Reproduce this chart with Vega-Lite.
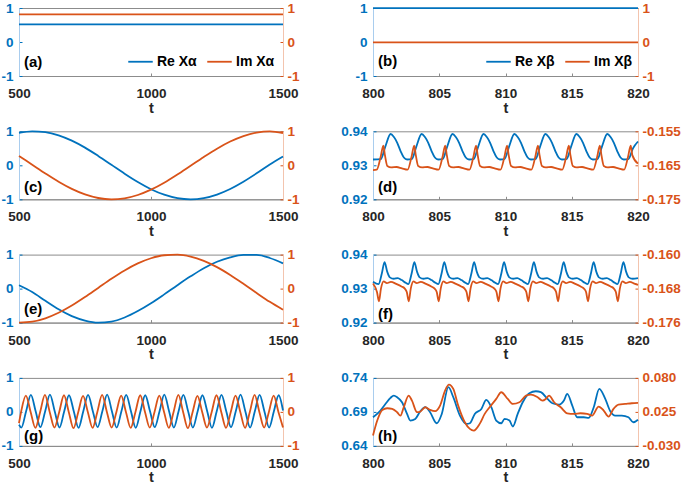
{
  "$schema": "https://vega.github.io/schema/vega-lite/v6.json",
  "background": "white",
  "padding": 0,
  "bounds": "flush",
  "columns": 2,
  "spacing": {"row": 55.3, "column": 90},
  "resolve": {"scale": {"color": "independent"}, "legend": {"color": "independent"}},
  "config": {
    "font": "Liberation Sans",
    "locale": {"number": {"decimal": ".", "thousands": ",", "grouping": [3], "currency": ["$", ""], "minus": "-"}},
    "view": {"stroke": "#8c8c8c", "strokeWidth": 1},
    "line": {"strokeWidth": 1.8},
    "axis": {"labelFont": "Liberation Sans", "labelFontWeight": "bold", "labelFontSize": 13.5, "titleFont": "Liberation Sans", "titleFontWeight": "bold", "titleFontSize": 14.5, "grid": false, "tickSize": -3, "domainWidth": 1, "labelFlush": false, "labelOverlap": false},
    "axisX": {"domainColor": "#8c8c8c", "tickColor": "#8c8c8c", "labelColor": "#262626", "titleColor": "#262626", "labelPadding": 13.5, "titlePadding": 1},
    "axisLeft": {"labelColor": "#0072BD", "domainColor": "#a9cdee", "tickColor": "#0072BD", "labelPadding": 9},
    "axisRight": {"labelColor": "#D95319", "domainColor": "#f3c4ae", "tickColor": "#D95319", "labelPadding": 7},
    "text": {"font": "Liberation Sans", "fontWeight": "bold", "fontSize": 15, "color": "#000000", "align": "left", "baseline": "middle", "dx": 5}
  },
  "datasets": {
    "a_re": [{"t": 500, "v": 0.52}, {"t": 1500, "v": 0.52}],
    "a_im": [{"t": 500, "v": 0.81}, {"t": 1500, "v": 0.81}],
    "b_re": [{"t": 800, "v": 0.995}, {"t": 820, "v": 0.995}],
    "b_im": [{"t": 800, "v": -0.01}, {"t": 820, "v": -0.01}],
    "c_re": [{"t":500,"v":0.955},{"t":550,"v":0.999},{"t":600,"v":0.974},{"t":650,"v":0.881},{"t":700,"v":0.725},{"t":750,"v":0.52},{"t":800,"v":0.277},{"t":850,"v":0.016},{"t":900,"v":-0.247},{"t":950,"v":-0.492},{"t":1000,"v":-0.703},{"t":1050,"v":-0.865},{"t":1100,"v":-0.966},{"t":1150,"v":-1.0},{"t":1200,"v":-0.964},{"t":1250,"v":-0.86},{"t":1300,"v":-0.696},{"t":1350,"v":-0.483},{"t":1400,"v":-0.237},{"t":1450,"v":0.026},{"t":1500,"v":0.26}],
    "c_im": [{"t":500,"v":0.277},{"t":550,"v":0.018},{"t":600,"v":-0.241},{"t":650,"v":-0.485},{"t":700,"v":-0.695},{"t":750,"v":-0.858},{"t":800,"v":-0.962},{"t":850,"v":-1.0},{"t":900,"v":-0.97},{"t":950,"v":-0.873},{"t":1000,"v":-0.717},{"t":1050,"v":-0.512},{"t":1100,"v":-0.272},{"t":1150,"v":-0.013},{"t":1200,"v":0.246},{"t":1250,"v":0.489},{"t":1300,"v":0.699},{"t":1350,"v":0.86},{"t":1400,"v":0.963},{"t":1450,"v":1.0},{"t":1500,"v":0.95}],
    "d_re": [{"t":800.00,"v":0.9317},
      {"t":800.58,"v":0.9318},{"t":800.93,"v":0.9355},{"t":801.33,"v":0.9392},{"t":801.58,"v":0.9383},{"t":801.83,"v":0.9366},{"t":802.08,"v":0.9342},{"t":802.33,"v":0.9323},{"t":802.58,"v":0.9317},
      {"t":802.92,"v":0.9318},{"t":803.27,"v":0.9355},{"t":803.67,"v":0.9392},{"t":803.92,"v":0.9383},{"t":804.17,"v":0.9366},{"t":804.42,"v":0.9342},{"t":804.67,"v":0.9323},{"t":804.92,"v":0.9317},
      {"t":805.25,"v":0.9318},{"t":805.60,"v":0.9355},{"t":806.00,"v":0.9392},{"t":806.25,"v":0.9383},{"t":806.50,"v":0.9366},{"t":806.75,"v":0.9342},{"t":807.00,"v":0.9323},{"t":807.25,"v":0.9317},
      {"t":807.59,"v":0.9318},{"t":807.94,"v":0.9355},{"t":808.34,"v":0.9392},{"t":808.59,"v":0.9383},{"t":808.84,"v":0.9366},{"t":809.09,"v":0.9342},{"t":809.34,"v":0.9323},{"t":809.59,"v":0.9317},
      {"t":809.92,"v":0.9318},{"t":810.27,"v":0.9355},{"t":810.67,"v":0.9392},{"t":810.92,"v":0.9383},{"t":811.17,"v":0.9366},{"t":811.42,"v":0.9342},{"t":811.67,"v":0.9323},{"t":811.92,"v":0.9317},
      {"t":812.26,"v":0.9318},{"t":812.61,"v":0.9355},{"t":813.01,"v":0.9392},{"t":813.26,"v":0.9383},{"t":813.51,"v":0.9366},{"t":813.76,"v":0.9342},{"t":814.01,"v":0.9323},{"t":814.26,"v":0.9317},
      {"t":814.60,"v":0.9318},{"t":814.95,"v":0.9355},{"t":815.35,"v":0.9392},{"t":815.60,"v":0.9383},{"t":815.85,"v":0.9366},{"t":816.10,"v":0.9342},{"t":816.35,"v":0.9323},{"t":816.60,"v":0.9317},
      {"t":816.93,"v":0.9318},{"t":817.28,"v":0.9355},{"t":817.68,"v":0.9392},{"t":817.93,"v":0.9383},{"t":818.18,"v":0.9366},{"t":818.43,"v":0.9342},{"t":818.68,"v":0.9323},{"t":818.93,"v":0.9317},
      {"t":819.27,"v":0.9318},{"t":819.62,"v":0.9350},{"t":820.00,"v":0.9370}],
    "d_im": [{"t":800.00,"v":-0.1664},
      {"t":800.28,"v":-0.1663},{"t":800.58,"v":-0.1625},{"t":800.78,"v":-0.1592},{"t":800.90,"v":-0.1620},{"t":801.08,"v":-0.1652},{"t":801.38,"v":-0.1656},{"t":801.78,"v":-0.1655},{"t":802.18,"v":-0.1659},
      {"t":802.61,"v":-0.1663},{"t":802.91,"v":-0.1625},{"t":803.11,"v":-0.1592},{"t":803.23,"v":-0.1620},{"t":803.41,"v":-0.1652},{"t":803.71,"v":-0.1656},{"t":804.11,"v":-0.1655},{"t":804.51,"v":-0.1659},
      {"t":804.95,"v":-0.1663},{"t":805.25,"v":-0.1625},{"t":805.45,"v":-0.1592},{"t":805.57,"v":-0.1620},{"t":805.75,"v":-0.1652},{"t":806.05,"v":-0.1656},{"t":806.45,"v":-0.1655},{"t":806.85,"v":-0.1659},
      {"t":807.28,"v":-0.1663},{"t":807.58,"v":-0.1625},{"t":807.78,"v":-0.1592},{"t":807.90,"v":-0.1620},{"t":808.08,"v":-0.1652},{"t":808.38,"v":-0.1656},{"t":808.78,"v":-0.1655},{"t":809.18,"v":-0.1659},
      {"t":809.62,"v":-0.1663},{"t":809.92,"v":-0.1625},{"t":810.12,"v":-0.1592},{"t":810.24,"v":-0.1620},{"t":810.42,"v":-0.1652},{"t":810.72,"v":-0.1656},{"t":811.12,"v":-0.1655},{"t":811.52,"v":-0.1659},
      {"t":811.95,"v":-0.1663},{"t":812.25,"v":-0.1625},{"t":812.45,"v":-0.1592},{"t":812.57,"v":-0.1620},{"t":812.75,"v":-0.1652},{"t":813.05,"v":-0.1656},{"t":813.45,"v":-0.1655},{"t":813.85,"v":-0.1659},
      {"t":814.28,"v":-0.1663},{"t":814.58,"v":-0.1625},{"t":814.78,"v":-0.1592},{"t":814.90,"v":-0.1620},{"t":815.08,"v":-0.1652},{"t":815.38,"v":-0.1656},{"t":815.78,"v":-0.1655},{"t":816.18,"v":-0.1659},
      {"t":816.62,"v":-0.1663},{"t":816.92,"v":-0.1625},{"t":817.12,"v":-0.1592},{"t":817.24,"v":-0.1620},{"t":817.42,"v":-0.1652},{"t":817.72,"v":-0.1656},{"t":818.12,"v":-0.1655},{"t":818.52,"v":-0.1659},
      {"t":818.95,"v":-0.1663},{"t":819.25,"v":-0.1625},{"t":819.45,"v":-0.1592},{"t":819.57,"v":-0.1620},{"t":820.00,"v":-0.1645}],
    "e_re": [{"t":500,"v":0.10},{"t":550,"v":-0.10},{"t":600,"v":-0.36},{"t":650,"v":-0.61},{"t":700,"v":-0.81},{"t":750,"v":-0.94},{"t":800,"v":-1.0},{"t":850,"v":-0.97},{"t":900,"v":-0.85},{"t":950,"v":-0.66},{"t":1000,"v":-0.43},{"t":1050,"v":-0.17},{"t":1100,"v":0.10},{"t":1150,"v":0.36},{"t":1200,"v":0.60},{"t":1250,"v":0.79},{"t":1300,"v":0.92},{"t":1350,"v":0.99},{"t":1400,"v":0.99},{"t":1450,"v":0.90},{"t":1500,"v":0.74}],
    "e_im": [{"t":500,"v":-0.999},{"t":550,"v":-0.972},{"t":600,"v":-0.873},{"t":650,"v":-0.711},{"t":700,"v":-0.497},{"t":750,"v":-0.247},{"t":800,"v":0.021},{"t":850,"v":0.289},{"t":900,"v":0.534},{"t":950,"v":0.741},{"t":1000,"v":0.893},{"t":1050,"v":0.981},{"t":1100,"v":0.997},{"t":1150,"v":0.941},{"t":1200,"v":0.815},{"t":1250,"v":0.631},{"t":1300,"v":0.40},{"t":1350,"v":0.141},{"t":1400,"v":-0.129},{"t":1450,"v":-0.39},{"t":1500,"v":-0.622}],
    "f_re": [{"t":800.00,"v":0.9320},
      {"t":800.42,"v":0.9313},{"t":800.67,"v":0.9345},{"t":800.87,"v":0.9378},{"t":801.07,"v":0.9350},{"t":801.27,"v":0.9333},{"t":801.57,"v":0.9329},{"t":801.87,"v":0.9331},{"t":802.17,"v":0.9325},{"t":802.47,"v":0.9317},
      {"t":802.67,"v":0.9313},{"t":802.92,"v":0.9345},{"t":803.12,"v":0.9378},{"t":803.32,"v":0.9350},{"t":803.52,"v":0.9333},{"t":803.82,"v":0.9329},{"t":804.12,"v":0.9331},{"t":804.42,"v":0.9325},{"t":804.72,"v":0.9317},
      {"t":804.93,"v":0.9313},{"t":805.18,"v":0.9345},{"t":805.38,"v":0.9378},{"t":805.58,"v":0.9350},{"t":805.78,"v":0.9333},{"t":806.08,"v":0.9329},{"t":806.38,"v":0.9331},{"t":806.68,"v":0.9325},{"t":806.98,"v":0.9317},
      {"t":807.18,"v":0.9313},{"t":807.43,"v":0.9345},{"t":807.63,"v":0.9378},{"t":807.83,"v":0.9350},{"t":808.03,"v":0.9333},{"t":808.33,"v":0.9329},{"t":808.63,"v":0.9331},{"t":808.93,"v":0.9325},{"t":809.23,"v":0.9317},
      {"t":809.44,"v":0.9313},{"t":809.69,"v":0.9345},{"t":809.89,"v":0.9378},{"t":810.09,"v":0.9350},{"t":810.29,"v":0.9333},{"t":810.59,"v":0.9329},{"t":810.89,"v":0.9331},{"t":811.19,"v":0.9325},{"t":811.49,"v":0.9317},
      {"t":811.69,"v":0.9313},{"t":811.94,"v":0.9345},{"t":812.14,"v":0.9378},{"t":812.34,"v":0.9350},{"t":812.54,"v":0.9333},{"t":812.84,"v":0.9329},{"t":813.14,"v":0.9331},{"t":813.44,"v":0.9325},{"t":813.74,"v":0.9317},
      {"t":813.94,"v":0.9313},{"t":814.19,"v":0.9345},{"t":814.39,"v":0.9378},{"t":814.59,"v":0.9350},{"t":814.79,"v":0.9333},{"t":815.09,"v":0.9329},{"t":815.39,"v":0.9331},{"t":815.69,"v":0.9325},{"t":815.99,"v":0.9317},
      {"t":816.20,"v":0.9313},{"t":816.45,"v":0.9345},{"t":816.65,"v":0.9378},{"t":816.85,"v":0.9350},{"t":817.05,"v":0.9333},{"t":817.35,"v":0.9329},{"t":817.65,"v":0.9331},{"t":817.95,"v":0.9325},{"t":818.25,"v":0.9317},
      {"t":818.45,"v":0.9313},{"t":818.70,"v":0.9345},{"t":818.90,"v":0.9378},{"t":819.10,"v":0.9350},{"t":819.30,"v":0.9333},{"t":819.60,"v":0.9329},{"t":820.00,"v":0.9331}],
    "f_im": [{"t":800.00,"v":-0.1668},
      {"t":800.30,"v":-0.1688},{"t":800.45,"v":-0.1710},{"t":800.60,"v":-0.1680},{"t":800.80,"v":-0.1663},{"t":801.05,"v":-0.1667},{"t":801.35,"v":-0.1664},{"t":801.75,"v":-0.1669},{"t":802.15,"v":-0.1675},{"t":802.40,"v":-0.1680},
      {"t":802.55,"v":-0.1688},{"t":802.70,"v":-0.1710},{"t":802.85,"v":-0.1680},{"t":803.05,"v":-0.1663},{"t":803.30,"v":-0.1667},{"t":803.60,"v":-0.1664},{"t":804.00,"v":-0.1669},{"t":804.40,"v":-0.1675},{"t":804.65,"v":-0.1680},
      {"t":804.81,"v":-0.1688},{"t":804.96,"v":-0.1710},{"t":805.11,"v":-0.1680},{"t":805.31,"v":-0.1663},{"t":805.56,"v":-0.1667},{"t":805.86,"v":-0.1664},{"t":806.26,"v":-0.1669},{"t":806.66,"v":-0.1675},{"t":806.91,"v":-0.1680},
      {"t":807.06,"v":-0.1688},{"t":807.21,"v":-0.1710},{"t":807.36,"v":-0.1680},{"t":807.56,"v":-0.1663},{"t":807.81,"v":-0.1667},{"t":808.11,"v":-0.1664},{"t":808.51,"v":-0.1669},{"t":808.91,"v":-0.1675},{"t":809.16,"v":-0.1680},
      {"t":809.32,"v":-0.1688},{"t":809.47,"v":-0.1710},{"t":809.62,"v":-0.1680},{"t":809.82,"v":-0.1663},{"t":810.07,"v":-0.1667},{"t":810.37,"v":-0.1664},{"t":810.77,"v":-0.1669},{"t":811.17,"v":-0.1675},{"t":811.42,"v":-0.1680},
      {"t":811.57,"v":-0.1688},{"t":811.72,"v":-0.1710},{"t":811.87,"v":-0.1680},{"t":812.07,"v":-0.1663},{"t":812.32,"v":-0.1667},{"t":812.62,"v":-0.1664},{"t":813.02,"v":-0.1669},{"t":813.42,"v":-0.1675},{"t":813.67,"v":-0.1680},
      {"t":813.82,"v":-0.1688},{"t":813.97,"v":-0.1710},{"t":814.12,"v":-0.1680},{"t":814.32,"v":-0.1663},{"t":814.57,"v":-0.1667},{"t":814.87,"v":-0.1664},{"t":815.27,"v":-0.1669},{"t":815.67,"v":-0.1675},{"t":815.92,"v":-0.1680},
      {"t":816.08,"v":-0.1688},{"t":816.23,"v":-0.1710},{"t":816.38,"v":-0.1680},{"t":816.58,"v":-0.1663},{"t":816.83,"v":-0.1667},{"t":817.13,"v":-0.1664},{"t":817.53,"v":-0.1669},{"t":817.93,"v":-0.1675},{"t":818.18,"v":-0.1680},
      {"t":818.33,"v":-0.1688},{"t":818.48,"v":-0.1710},{"t":818.63,"v":-0.1680},{"t":818.83,"v":-0.1663},{"t":819.08,"v":-0.1667},{"t":819.38,"v":-0.1664},{"t":819.78,"v":-0.1669},{"t":820.00,"v":-0.1671}],
    "g_re": [{"t":500,"v":-0.38},{"t":508.9,"v":-0.46},{"t":526.95,"v":0.02},{"t":545.0,"v":0.50},{"t":563.05,"v":0.02},{"t":581.1,"v":-0.45},{"t":599.15,"v":0.02},{"t":617.2,"v":0.51},{"t":635.25,"v":0.02},{"t":653.3,"v":-0.46},{"t":671.35,"v":0.02},{"t":689.4,"v":0.49},{"t":707.45,"v":0.02},{"t":725.5,"v":-0.47},{"t":743.55,"v":0.02},{"t":761.6,"v":0.50},{"t":779.65,"v":0.02},{"t":797.7,"v":-0.45},{"t":815.75,"v":0.02},{"t":833.8,"v":0.51},{"t":851.85,"v":0.02},{"t":869.9,"v":-0.46},{"t":887.95,"v":0.02},{"t":906.0,"v":0.50},{"t":924.05,"v":0.02},{"t":942.1,"v":-0.47},{"t":960.15,"v":0.02},{"t":978.2,"v":0.49},{"t":996.25,"v":0.02},{"t":1014.3,"v":-0.45},{"t":1032.35,"v":0.02},{"t":1050.4,"v":0.51},{"t":1068.45,"v":0.02},{"t":1086.5,"v":-0.46},{"t":1104.55,"v":0.02},{"t":1122.6,"v":0.50},{"t":1140.65,"v":0.02},{"t":1158.7,"v":-0.46},{"t":1176.75,"v":0.02},{"t":1194.8,"v":0.49},{"t":1212.85,"v":0.02},{"t":1230.9,"v":-0.47},{"t":1248.95,"v":0.02},{"t":1267.0,"v":0.50},{"t":1285.05,"v":0.02},{"t":1303.1,"v":-0.45},{"t":1321.15,"v":0.02},{"t":1339.2,"v":0.51},{"t":1357.25,"v":0.02},{"t":1375.3,"v":-0.46},{"t":1393.35,"v":0.02},{"t":1411.4,"v":0.50},{"t":1429.45,"v":0.02},{"t":1447.5,"v":-0.46},{"t":1465.55,"v":0.02},{"t":1483.6,"v":0.49},{"t":1500,"v":0.04}],
    "g_im": [{"t":500,"v":-0.33},{"t":507.95,"v":0.0},{"t":526.0,"v":0.48},{"t":544.05,"v":0.0},{"t":562.1,"v":-0.47},{"t":580.15,"v":0.0},{"t":598.2,"v":0.50},{"t":616.25,"v":0.0},{"t":634.3,"v":-0.46},{"t":652.35,"v":0.0},{"t":670.4,"v":0.49},{"t":688.45,"v":0.0},{"t":706.5,"v":-0.48},{"t":724.55,"v":0.0},{"t":742.6,"v":0.47},{"t":760.65,"v":0.0},{"t":778.7,"v":-0.47},{"t":796.75,"v":0.0},{"t":814.8,"v":0.50},{"t":832.85,"v":0.0},{"t":850.9,"v":-0.46},{"t":868.95,"v":0.0},{"t":887.0,"v":0.48},{"t":905.05,"v":0.0},{"t":923.1,"v":-0.47},{"t":941.15,"v":0.0},{"t":959.2,"v":0.49},{"t":977.25,"v":0.0},{"t":995.3,"v":-0.46},{"t":1013.35,"v":0.0},{"t":1031.4,"v":0.48},{"t":1049.45,"v":0.0},{"t":1067.5,"v":-0.47},{"t":1085.55,"v":0.0},{"t":1103.6,"v":0.50},{"t":1121.65,"v":0.0},{"t":1139.7,"v":-0.48},{"t":1157.75,"v":0.0},{"t":1175.8,"v":0.47},{"t":1193.85,"v":0.0},{"t":1211.9,"v":-0.46},{"t":1229.95,"v":0.0},{"t":1248.0,"v":0.49},{"t":1266.05,"v":0.0},{"t":1284.1,"v":-0.47},{"t":1302.15,"v":0.0},{"t":1320.2,"v":0.48},{"t":1338.25,"v":0.0},{"t":1356.3,"v":-0.47},{"t":1374.35,"v":0.0},{"t":1392.4,"v":0.50},{"t":1410.45,"v":0.0},{"t":1428.5,"v":-0.46},{"t":1446.55,"v":0.0},{"t":1464.6,"v":0.48},{"t":1482.65,"v":0.0},{"t":1500,"v":-0.46}],
    "h_re": [{"t":800.00,"v":0.682},{"t":800.45,"v":0.6895},{"t":800.95,"v":0.702},{"t":801.32,"v":0.7106},{"t":801.57,"v":0.714},{"t":801.82,"v":0.7116},{"t":802.19,"v":0.7042},{"t":802.57,"v":0.687},{"t":802.82,"v":0.6773},{"t":803.19,"v":0.6797},{"t":803.57,"v":0.691},{"t":803.94,"v":0.6969},{"t":804.31,"v":0.6895},{"t":804.81,"v":0.6733},{"t":805.19,"v":0.687},{"t":805.69,"v":0.7263},{"t":806.06,"v":0.7116},{"t":806.56,"v":0.6846},{"t":807.06,"v":0.6724},{"t":807.31,"v":0.6733},{"t":807.68,"v":0.687},{"t":808.18,"v":0.6944},{"t":808.55,"v":0.7076},{"t":808.93,"v":0.6969},{"t":809.30,"v":0.6773},{"t":809.68,"v":0.6733},{"t":809.93,"v":0.6797},{"t":810.30,"v":0.6773},{"t":810.55,"v":0.6684},{"t":810.92,"v":0.687},{"t":811.30,"v":0.7042},{"t":811.80,"v":0.7175},{"t":812.29,"v":0.7204},{"t":812.67,"v":0.719},{"t":813.17,"v":0.7091},{"t":813.54,"v":0.7027},{"t":814.04,"v":0.7008},{"t":814.41,"v":0.7067},{"t":814.66,"v":0.7165},{"t":815.04,"v":0.6993},{"t":815.41,"v":0.6821},{"t":815.91,"v":0.6821},{"t":816.28,"v":0.6812},{"t":816.66,"v":0.6969},{"t":817.08,"v":0.7238},{"t":817.53,"v":0.7091},{"t":817.91,"v":0.691},{"t":818.28,"v":0.6846},{"t":818.78,"v":0.6846},{"t":819.28,"v":0.6822},{"t":819.65,"v":0.6748},{"t":820.00,"v":0.6785}],
    "h_im": [{"t":800.00,"v":-0.0133},{"t":800.32,"v":0.011},{"t":800.70,"v":0.0282},{"t":801.07,"v":0.0309},{"t":801.45,"v":0.0299},{"t":801.82,"v":0.0245},{"t":802.07,"v":0.0191},{"t":802.32,"v":0.0325},{"t":802.69,"v":0.0514},{"t":802.94,"v":0.0433},{"t":803.32,"v":0.0245},{"t":803.57,"v":0.0255},{"t":803.94,"v":0.0325},{"t":804.31,"v":0.0282},{"t":804.69,"v":0.0261},{"t":805.06,"v":0.0352},{"t":805.44,"v":0.0595},{"t":805.73,"v":0.0692},{"t":806.06,"v":0.0622},{"t":806.43,"v":0.0352},{"t":806.93,"v":0.0083},{"t":807.31,"v":-0.0025},{"t":807.61,"v":-0.0052},{"t":808.05,"v":0.0056},{"t":808.43,"v":0.0218},{"t":808.80,"v":0.0325},{"t":809.30,"v":0.046},{"t":809.68,"v":0.0568},{"t":810.17,"v":0.046},{"t":810.55,"v":0.0379},{"t":811.05,"v":0.0406},{"t":811.55,"v":0.0514},{"t":811.92,"v":0.053},{"t":812.42,"v":0.0487},{"t":812.79,"v":0.0433},{"t":813.04,"v":0.046},{"t":813.29,"v":0.0514},{"t":813.67,"v":0.0406},{"t":814.17,"v":0.0325},{"t":814.66,"v":0.0228},{"t":815.16,"v":0.0218},{"t":815.66,"v":0.0228},{"t":816.16,"v":0.0218},{"t":816.53,"v":0.0191},{"t":817.03,"v":0.0336},{"t":817.41,"v":0.0272},{"t":817.78,"v":0.0175},{"t":818.15,"v":0.0299},{"t":818.53,"v":0.0369},{"t":819.03,"v":0.0379},{"t":819.53,"v":0.039},{"t":820.00,"v":0.0395}]
  },
  "concat": [
    {
      "width": 264, "height": 68,
      "layer": [
        {"data": {"name": "a_re"}, "mark": {"type": "line"},
         "encoding": {
           "x": {"field": "t", "type": "quantitative", "scale": {"domain": [500, 1500], "nice": false, "zero": false}, "axis": {"values": [500, 1000, 1500], "format": "d", "title": "t"}},
           "y": {"field": "v", "type": "quantitative", "scale": {"domain": [-1, 1], "nice": false, "zero": false}, "axis": {"orient": "left", "tickCount": 3, "format": "d", "title": null}},
           "color": {"datum": "Re Xα", "type": "nominal", "scale": {"domain": ["Re Xα", "Im Xα"], "range": ["#0072BD", "#D95319"]},
             "legend": {"orient": "none", "legendX": 108, "legendY": 40, "direction": "horizontal", "title": null, "symbolType": "stroke", "symbolSize": 600, "symbolStrokeWidth": 2, "labelFont": "Liberation Sans", "labelFontSize": 14, "labelFontWeight": "bold", "labelColor": "#000000", "labelOffset": 3, "columnPadding": 6, "padding": 0}}}},
        {"data": {"name": "a_im"}, "mark": {"type": "line"},
         "encoding": {
           "x": {"field": "t", "type": "quantitative"},
           "y": {"field": "v", "type": "quantitative", "scale": {"domain": [-1, 1], "nice": false, "zero": false}, "axis": {"orient": "right", "tickCount": 3, "format": "d", "title": null}},
           "color": {"datum": "Im Xα", "type": "nominal"}}},
        {"data": {"values": [{"label": "(a)"}]}, "mark": {"type": "text"},
         "encoding": {"text": {"field": "label"}, "x": {"datum": 500, "type": "quantitative"}, "y": {"datum": 0.21, "type": "quantitative", "scale": {"domain": [0, 1]}, "axis": null}}}
      ],
      "resolve": {"scale": {"y": "independent"}}
    },
    {
      "width": 265, "height": 68,
      "layer": [
        {"data": {"name": "b_re"}, "mark": {"type": "line"},
         "encoding": {
           "x": {"field": "t", "type": "quantitative", "scale": {"domain": [800, 820], "nice": false, "zero": false}, "axis": {"values": [800, 805, 810, 815, 820], "format": "d", "title": "t"}},
           "y": {"field": "v", "type": "quantitative", "scale": {"domain": [-1, 1], "nice": false, "zero": false}, "axis": {"orient": "left", "tickCount": 3, "format": "d", "title": null}},
           "color": {"datum": "Re Xβ", "type": "nominal", "scale": {"domain": ["Re Xβ", "Im Xβ"], "range": ["#0072BD", "#D95319"]},
             "legend": {"orient": "none", "legendX": 112, "legendY": 40, "direction": "horizontal", "title": null, "symbolType": "stroke", "symbolSize": 600, "symbolStrokeWidth": 2, "labelFont": "Liberation Sans", "labelFontSize": 14, "labelFontWeight": "bold", "labelColor": "#000000", "labelOffset": 3, "columnPadding": 6, "padding": 0}}}},
        {"data": {"name": "b_im"}, "mark": {"type": "line"},
         "encoding": {
           "x": {"field": "t", "type": "quantitative"},
           "y": {"field": "v", "type": "quantitative", "scale": {"domain": [-1, 1], "nice": false, "zero": false}, "axis": {"orient": "right", "tickCount": 3, "format": "d", "title": null}},
           "color": {"datum": "Im Xβ", "type": "nominal"}}},
        {"data": {"values": [{"label": "(b)"}]}, "mark": {"type": "text"},
         "encoding": {"text": {"field": "label"}, "x": {"datum": 800, "type": "quantitative"}, "y": {"datum": 0.22, "type": "quantitative", "scale": {"domain": [0, 1]}, "axis": null}}}
      ],
      "resolve": {"scale": {"y": "independent"}}
    },
    {
      "width": 264, "height": 68,
      "layer": [
        {"data": {"name": "c_re"}, "mark": {"type": "line", "color": "#0072BD", "interpolate": "monotone"},
         "encoding": {
           "x": {"field": "t", "type": "quantitative", "scale": {"domain": [500, 1500], "nice": false, "zero": false}, "axis": {"values": [500, 1000, 1500], "format": "d", "title": "t"}},
           "y": {"field": "v", "type": "quantitative", "scale": {"domain": [-1, 1], "nice": false, "zero": false}, "axis": {"orient": "left", "tickCount": 3, "format": "d", "title": null}}}},
        {"data": {"name": "c_im"}, "mark": {"type": "line", "color": "#D95319", "interpolate": "monotone"},
         "encoding": {
           "x": {"field": "t", "type": "quantitative"},
           "y": {"field": "v", "type": "quantitative", "scale": {"domain": [-1, 1], "nice": false, "zero": false}, "axis": {"orient": "right", "tickCount": 3, "format": "d", "title": null}}}},
        {"data": {"values": [{"label": "(c)"}]}, "mark": {"type": "text"},
         "encoding": {"text": {"field": "label"}, "x": {"datum": 500, "type": "quantitative"}, "y": {"datum": 0.18, "type": "quantitative", "scale": {"domain": [0, 1]}, "axis": null}}}
      ],
      "resolve": {"scale": {"y": "independent"}}
    },
    {
      "width": 265, "height": 68,
      "layer": [
        {"data": {"name": "d_re"}, "mark": {"type": "line", "color": "#0072BD", "interpolate": "monotone"},
         "encoding": {
           "x": {"field": "t", "type": "quantitative", "scale": {"domain": [800, 820], "nice": false, "zero": false}, "axis": {"values": [800, 805, 810, 815, 820], "format": "d", "title": "t"}},
           "y": {"field": "v", "type": "quantitative", "scale": {"domain": [0.92, 0.94], "nice": false, "zero": false}, "axis": {"orient": "left", "values": [0.92, 0.93, 0.94], "format": ".2f", "title": null}}}},
        {"data": {"name": "d_im"}, "mark": {"type": "line", "color": "#D95319", "interpolate": "monotone"},
         "encoding": {
           "x": {"field": "t", "type": "quantitative"},
           "y": {"field": "v", "type": "quantitative", "scale": {"domain": [-0.175, -0.155], "nice": false, "zero": false}, "axis": {"orient": "right", "values": [-0.175, -0.165, -0.155], "format": ".3f", "title": null}}}},
        {"data": {"values": [{"label": "(d)"}]}, "mark": {"type": "text"},
         "encoding": {"text": {"field": "label"}, "x": {"datum": 800, "type": "quantitative"}, "y": {"datum": 0.18, "type": "quantitative", "scale": {"domain": [0, 1]}, "axis": null}}}
      ],
      "resolve": {"scale": {"y": "independent"}}
    },
    {
      "width": 264, "height": 68,
      "layer": [
        {"data": {"name": "e_re"}, "mark": {"type": "line", "color": "#0072BD", "interpolate": "monotone"},
         "encoding": {
           "x": {"field": "t", "type": "quantitative", "scale": {"domain": [500, 1500], "nice": false, "zero": false}, "axis": {"values": [500, 1000, 1500], "format": "d", "title": "t"}},
           "y": {"field": "v", "type": "quantitative", "scale": {"domain": [-1, 1], "nice": false, "zero": false}, "axis": {"orient": "left", "tickCount": 3, "format": "d", "title": null}}}},
        {"data": {"name": "e_im"}, "mark": {"type": "line", "color": "#D95319", "interpolate": "monotone"},
         "encoding": {
           "x": {"field": "t", "type": "quantitative"},
           "y": {"field": "v", "type": "quantitative", "scale": {"domain": [-1, 1], "nice": false, "zero": false}, "axis": {"orient": "right", "tickCount": 3, "format": "d", "title": null}}}},
        {"data": {"values": [{"label": "(e)"}]}, "mark": {"type": "text"},
         "encoding": {"text": {"field": "label"}, "x": {"datum": 500, "type": "quantitative"}, "y": {"datum": 0.2, "type": "quantitative", "scale": {"domain": [0, 1]}, "axis": null}}}
      ],
      "resolve": {"scale": {"y": "independent"}}
    },
    {
      "width": 265, "height": 68,
      "layer": [
        {"data": {"name": "f_re"}, "mark": {"type": "line", "color": "#0072BD", "interpolate": "monotone"},
         "encoding": {
           "x": {"field": "t", "type": "quantitative", "scale": {"domain": [800, 820], "nice": false, "zero": false}, "axis": {"values": [800, 805, 810, 815, 820], "format": "d", "title": "t"}},
           "y": {"field": "v", "type": "quantitative", "scale": {"domain": [0.92, 0.94], "nice": false, "zero": false}, "axis": {"orient": "left", "values": [0.92, 0.93, 0.94], "format": ".2f", "title": null}}}},
        {"data": {"name": "f_im"}, "mark": {"type": "line", "color": "#D95319", "interpolate": "monotone"},
         "encoding": {
           "x": {"field": "t", "type": "quantitative"},
           "y": {"field": "v", "type": "quantitative", "scale": {"domain": [-0.176, -0.16], "nice": false, "zero": false}, "axis": {"orient": "right", "values": [-0.176, -0.168, -0.16], "format": ".3f", "title": null}}}},
        {"data": {"values": [{"label": "(f)"}]}, "mark": {"type": "text"},
         "encoding": {"text": {"field": "label"}, "x": {"datum": 800, "type": "quantitative"}, "y": {"datum": 0.13, "type": "quantitative", "scale": {"domain": [0, 1]}, "axis": null}}}
      ],
      "resolve": {"scale": {"y": "independent"}}
    },
    {
      "width": 264, "height": 68,
      "layer": [
        {"data": {"name": "g_re"}, "mark": {"type": "line", "color": "#0072BD", "interpolate": "monotone"},
         "encoding": {
           "x": {"field": "t", "type": "quantitative", "scale": {"domain": [500, 1500], "nice": false, "zero": false}, "axis": {"values": [500, 1000, 1500], "format": "d", "title": "t"}},
           "y": {"field": "v", "type": "quantitative", "scale": {"domain": [-1, 1], "nice": false, "zero": false}, "axis": {"orient": "left", "tickCount": 3, "format": "d", "title": null}}}},
        {"data": {"name": "g_im"}, "mark": {"type": "line", "color": "#D95319", "interpolate": "monotone"},
         "encoding": {
           "x": {"field": "t", "type": "quantitative"},
           "y": {"field": "v", "type": "quantitative", "scale": {"domain": [-1, 1], "nice": false, "zero": false}, "axis": {"orient": "right", "tickCount": 3, "format": "d", "title": null}}}},
        {"data": {"values": [{"label": "(g)"}]}, "mark": {"type": "text"},
         "encoding": {"text": {"field": "label"}, "x": {"datum": 500, "type": "quantitative"}, "y": {"datum": 0.14, "type": "quantitative", "scale": {"domain": [0, 1]}, "axis": null}}}
      ],
      "resolve": {"scale": {"y": "independent"}}
    },
    {
      "width": 265, "height": 68,
      "layer": [
        {"data": {"name": "h_re"}, "mark": {"type": "line", "color": "#0072BD", "interpolate": "monotone"},
         "encoding": {
           "x": {"field": "t", "type": "quantitative", "scale": {"domain": [800, 820], "nice": false, "zero": false}, "axis": {"values": [800, 805, 810, 815, 820], "format": "d", "title": "t"}},
           "y": {"field": "v", "type": "quantitative", "scale": {"domain": [0.64, 0.74], "nice": false, "zero": false}, "axis": {"orient": "left", "values": [0.64, 0.69, 0.74], "format": ".2f", "title": null}}}},
        {"data": {"name": "h_im"}, "mark": {"type": "line", "color": "#D95319", "interpolate": "monotone"},
         "encoding": {
           "x": {"field": "t", "type": "quantitative"},
           "y": {"field": "v", "type": "quantitative", "scale": {"domain": [-0.03, 0.08], "nice": false, "zero": false}, "axis": {"orient": "right", "values": [-0.03, 0.025, 0.08], "format": ".3f", "title": null}}}},
        {"data": {"values": [{"label": "(h)"}]}, "mark": {"type": "text"},
         "encoding": {"text": {"field": "label"}, "x": {"datum": 800, "type": "quantitative"}, "y": {"datum": 0.15, "type": "quantitative", "scale": {"domain": [0, 1]}, "axis": null}}}
      ],
      "resolve": {"scale": {"y": "independent"}}
    }
  ]
}
